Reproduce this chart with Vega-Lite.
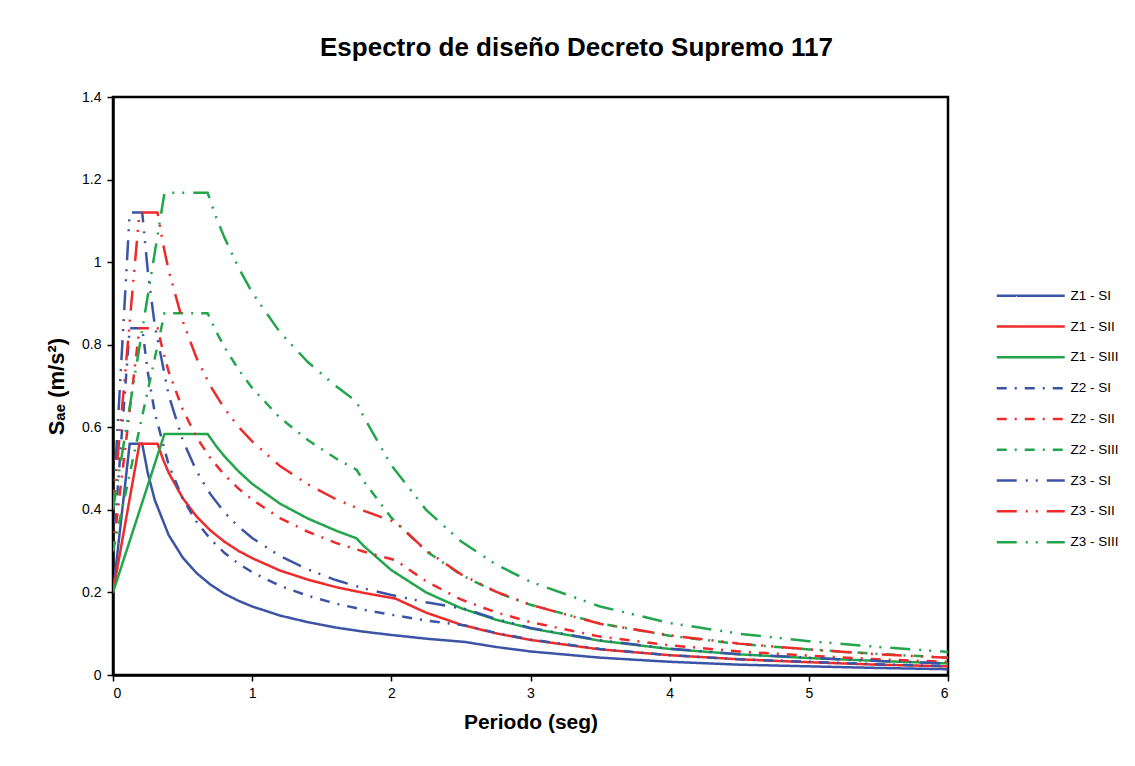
{
  "$schema": "https://vega.github.io/schema/vega-lite/v6.json",
  "width": 835,
  "height": 578,
  "autosize": {"type": "none"},
  "padding": {"left": 113, "top": 97, "right": 187, "bottom": 91},
  "background": "white",
  "title": {"text": "Espectro de diseño Decreto Supremo 117", "font": "Liberation Sans", "fontSize": 26, "fontWeight": "bold", "anchor": "middle", "dx": 46, "offset": 29, "color": "black"},
  "datasets": {
    "spec": [
      {"series": "Z1 - SI", "T": 0, "S": 0.2}, {"series": "Z1 - SI", "T": 0.12, "S": 0.56}, {"series": "Z1 - SI", "T": 0.21, "S": 0.56}, {"series": "Z1 - SI", "T": 0.25, "S": 0.489}, {"series": "Z1 - SI", "T": 0.3, "S": 0.424}, {"series": "Z1 - SI", "T": 0.4, "S": 0.339}, {"series": "Z1 - SI", "T": 0.5, "S": 0.285}, {"series": "Z1 - SI", "T": 0.6, "S": 0.247}, {"series": "Z1 - SI", "T": 0.7, "S": 0.219}, {"series": "Z1 - SI", "T": 0.8, "S": 0.197}, {"series": "Z1 - SI", "T": 0.9, "S": 0.18}, {"series": "Z1 - SI", "T": 1.0, "S": 0.166}, {"series": "Z1 - SI", "T": 1.2, "S": 0.144}, {"series": "Z1 - SI", "T": 1.4, "S": 0.128}, {"series": "Z1 - SI", "T": 1.6, "S": 0.115}, {"series": "Z1 - SI", "T": 1.8, "S": 0.105}, {"series": "Z1 - SI", "T": 2.0, "S": 0.097}, {"series": "Z1 - SI", "T": 2.25, "S": 0.088}, {"series": "Z1 - SI", "T": 2.53, "S": 0.08}, {"series": "Z1 - SI", "T": 2.75, "S": 0.068}, {"series": "Z1 - SI", "T": 3.0, "S": 0.057}, {"series": "Z1 - SI", "T": 3.5, "S": 0.042}, {"series": "Z1 - SI", "T": 4.0, "S": 0.032}, {"series": "Z1 - SI", "T": 4.5, "S": 0.025}, {"series": "Z1 - SI", "T": 5.0, "S": 0.021}, {"series": "Z1 - SI", "T": 5.5, "S": 0.017}, {"series": "Z1 - SI", "T": 6.0, "S": 0.014},

      {"series": "Z1 - SII", "T": 0, "S": 0.2}, {"series": "Z1 - SII", "T": 0.19, "S": 0.56}, {"series": "Z1 - SII", "T": 0.32, "S": 0.56}, {"series": "Z1 - SII", "T": 0.36, "S": 0.522}, {"series": "Z1 - SII", "T": 0.4, "S": 0.49}, {"series": "Z1 - SII", "T": 0.5, "S": 0.429}, {"series": "Z1 - SII", "T": 0.6, "S": 0.384}, {"series": "Z1 - SII", "T": 0.7, "S": 0.35}, {"series": "Z1 - SII", "T": 0.8, "S": 0.323}, {"series": "Z1 - SII", "T": 0.9, "S": 0.301}, {"series": "Z1 - SII", "T": 1.0, "S": 0.283}, {"series": "Z1 - SII", "T": 1.2, "S": 0.253}, {"series": "Z1 - SII", "T": 1.4, "S": 0.231}, {"series": "Z1 - SII", "T": 1.6, "S": 0.213}, {"series": "Z1 - SII", "T": 1.8, "S": 0.199}, {"series": "Z1 - SII", "T": 2.03, "S": 0.185}, {"series": "Z1 - SII", "T": 2.25, "S": 0.151}, {"series": "Z1 - SII", "T": 2.5, "S": 0.122}, {"series": "Z1 - SII", "T": 2.75, "S": 0.101}, {"series": "Z1 - SII", "T": 3.0, "S": 0.085}, {"series": "Z1 - SII", "T": 3.5, "S": 0.062}, {"series": "Z1 - SII", "T": 4.0, "S": 0.048}, {"series": "Z1 - SII", "T": 4.5, "S": 0.038}, {"series": "Z1 - SII", "T": 5.0, "S": 0.031}, {"series": "Z1 - SII", "T": 5.5, "S": 0.025}, {"series": "Z1 - SII", "T": 6.0, "S": 0.021},

      {"series": "Z1 - SIII", "T": 0, "S": 0.2}, {"series": "Z1 - SIII", "T": 0.37, "S": 0.584}, {"series": "Z1 - SIII", "T": 0.68, "S": 0.584}, {"series": "Z1 - SIII", "T": 0.74, "S": 0.555}, {"series": "Z1 - SIII", "T": 0.8, "S": 0.53}, {"series": "Z1 - SIII", "T": 0.9, "S": 0.494}, {"series": "Z1 - SIII", "T": 1.0, "S": 0.463}, {"series": "Z1 - SIII", "T": 1.2, "S": 0.415}, {"series": "Z1 - SIII", "T": 1.4, "S": 0.379}, {"series": "Z1 - SIII", "T": 1.6, "S": 0.35}, {"series": "Z1 - SIII", "T": 1.75, "S": 0.331}, {"series": "Z1 - SIII", "T": 1.8, "S": 0.313}, {"series": "Z1 - SIII", "T": 2.0, "S": 0.254}, {"series": "Z1 - SIII", "T": 2.25, "S": 0.2}, {"series": "Z1 - SIII", "T": 2.5, "S": 0.162}, {"series": "Z1 - SIII", "T": 2.75, "S": 0.134}, {"series": "Z1 - SIII", "T": 3.0, "S": 0.113}, {"series": "Z1 - SIII", "T": 3.5, "S": 0.083}, {"series": "Z1 - SIII", "T": 4.0, "S": 0.063}, {"series": "Z1 - SIII", "T": 4.5, "S": 0.05}, {"series": "Z1 - SIII", "T": 5.0, "S": 0.041}, {"series": "Z1 - SIII", "T": 5.5, "S": 0.034}, {"series": "Z1 - SIII", "T": 6.0, "S": 0.028},

      {"series": "Z2 - SI", "T": 0, "S": 0.3}, {"series": "Z2 - SI", "T": 0.12, "S": 0.84}, {"series": "Z2 - SI", "T": 0.21, "S": 0.84}, {"series": "Z2 - SI", "T": 0.25, "S": 0.734}, {"series": "Z2 - SI", "T": 0.3, "S": 0.636}, {"series": "Z2 - SI", "T": 0.4, "S": 0.509}, {"series": "Z2 - SI", "T": 0.5, "S": 0.428}, {"series": "Z2 - SI", "T": 0.6, "S": 0.371}, {"series": "Z2 - SI", "T": 0.7, "S": 0.329}, {"series": "Z2 - SI", "T": 0.8, "S": 0.296}, {"series": "Z2 - SI", "T": 0.9, "S": 0.27}, {"series": "Z2 - SI", "T": 1.0, "S": 0.249}, {"series": "Z2 - SI", "T": 1.2, "S": 0.216}, {"series": "Z2 - SI", "T": 1.4, "S": 0.192}, {"series": "Z2 - SI", "T": 1.6, "S": 0.173}, {"series": "Z2 - SI", "T": 1.8, "S": 0.158}, {"series": "Z2 - SI", "T": 2.0, "S": 0.146}, {"series": "Z2 - SI", "T": 2.25, "S": 0.132}, {"series": "Z2 - SI", "T": 2.53, "S": 0.12}, {"series": "Z2 - SI", "T": 2.75, "S": 0.102}, {"series": "Z2 - SI", "T": 3.0, "S": 0.086}, {"series": "Z2 - SI", "T": 3.5, "S": 0.063}, {"series": "Z2 - SI", "T": 4.0, "S": 0.048}, {"series": "Z2 - SI", "T": 4.5, "S": 0.038}, {"series": "Z2 - SI", "T": 5.0, "S": 0.032}, {"series": "Z2 - SI", "T": 5.5, "S": 0.026}, {"series": "Z2 - SI", "T": 6.0, "S": 0.021},

      {"series": "Z2 - SII", "T": 0, "S": 0.3}, {"series": "Z2 - SII", "T": 0.19, "S": 0.84}, {"series": "Z2 - SII", "T": 0.32, "S": 0.84}, {"series": "Z2 - SII", "T": 0.36, "S": 0.783}, {"series": "Z2 - SII", "T": 0.4, "S": 0.735}, {"series": "Z2 - SII", "T": 0.5, "S": 0.644}, {"series": "Z2 - SII", "T": 0.6, "S": 0.576}, {"series": "Z2 - SII", "T": 0.7, "S": 0.525}, {"series": "Z2 - SII", "T": 0.8, "S": 0.485}, {"series": "Z2 - SII", "T": 0.9, "S": 0.452}, {"series": "Z2 - SII", "T": 1.0, "S": 0.425}, {"series": "Z2 - SII", "T": 1.2, "S": 0.38}, {"series": "Z2 - SII", "T": 1.4, "S": 0.347}, {"series": "Z2 - SII", "T": 1.6, "S": 0.32}, {"series": "Z2 - SII", "T": 1.8, "S": 0.299}, {"series": "Z2 - SII", "T": 2.03, "S": 0.278}, {"series": "Z2 - SII", "T": 2.25, "S": 0.227}, {"series": "Z2 - SII", "T": 2.5, "S": 0.183}, {"series": "Z2 - SII", "T": 2.75, "S": 0.152}, {"series": "Z2 - SII", "T": 3.0, "S": 0.128}, {"series": "Z2 - SII", "T": 3.5, "S": 0.093}, {"series": "Z2 - SII", "T": 4.0, "S": 0.072}, {"series": "Z2 - SII", "T": 4.5, "S": 0.057}, {"series": "Z2 - SII", "T": 5.0, "S": 0.047}, {"series": "Z2 - SII", "T": 5.5, "S": 0.038}, {"series": "Z2 - SII", "T": 6.0, "S": 0.032},

      {"series": "Z2 - SIII", "T": 0, "S": 0.3}, {"series": "Z2 - SIII", "T": 0.37, "S": 0.876}, {"series": "Z2 - SIII", "T": 0.68, "S": 0.876}, {"series": "Z2 - SIII", "T": 0.74, "S": 0.833}, {"series": "Z2 - SIII", "T": 0.8, "S": 0.795}, {"series": "Z2 - SIII", "T": 0.9, "S": 0.741}, {"series": "Z2 - SIII", "T": 1.0, "S": 0.695}, {"series": "Z2 - SIII", "T": 1.2, "S": 0.623}, {"series": "Z2 - SIII", "T": 1.4, "S": 0.569}, {"series": "Z2 - SIII", "T": 1.6, "S": 0.525}, {"series": "Z2 - SIII", "T": 1.75, "S": 0.497}, {"series": "Z2 - SIII", "T": 1.8, "S": 0.47}, {"series": "Z2 - SIII", "T": 2.0, "S": 0.381}, {"series": "Z2 - SIII", "T": 2.25, "S": 0.3}, {"series": "Z2 - SIII", "T": 2.5, "S": 0.243}, {"series": "Z2 - SIII", "T": 2.75, "S": 0.201}, {"series": "Z2 - SIII", "T": 3.0, "S": 0.17}, {"series": "Z2 - SIII", "T": 3.5, "S": 0.125}, {"series": "Z2 - SIII", "T": 4.0, "S": 0.095}, {"series": "Z2 - SIII", "T": 4.5, "S": 0.075}, {"series": "Z2 - SIII", "T": 5.0, "S": 0.062}, {"series": "Z2 - SIII", "T": 5.5, "S": 0.051}, {"series": "Z2 - SIII", "T": 6.0, "S": 0.042},

      {"series": "Z3 - SI", "T": 0, "S": 0.4}, {"series": "Z3 - SI", "T": 0.12, "S": 1.12}, {"series": "Z3 - SI", "T": 0.21, "S": 1.12}, {"series": "Z3 - SI", "T": 0.25, "S": 0.978}, {"series": "Z3 - SI", "T": 0.3, "S": 0.848}, {"series": "Z3 - SI", "T": 0.4, "S": 0.678}, {"series": "Z3 - SI", "T": 0.5, "S": 0.57}, {"series": "Z3 - SI", "T": 0.6, "S": 0.494}, {"series": "Z3 - SI", "T": 0.7, "S": 0.438}, {"series": "Z3 - SI", "T": 0.8, "S": 0.394}, {"series": "Z3 - SI", "T": 0.9, "S": 0.36}, {"series": "Z3 - SI", "T": 1.0, "S": 0.332}, {"series": "Z3 - SI", "T": 1.2, "S": 0.288}, {"series": "Z3 - SI", "T": 1.4, "S": 0.256}, {"series": "Z3 - SI", "T": 1.6, "S": 0.23}, {"series": "Z3 - SI", "T": 1.8, "S": 0.21}, {"series": "Z3 - SI", "T": 2.0, "S": 0.194}, {"series": "Z3 - SI", "T": 2.25, "S": 0.176}, {"series": "Z3 - SI", "T": 2.53, "S": 0.16}, {"series": "Z3 - SI", "T": 2.75, "S": 0.136}, {"series": "Z3 - SI", "T": 3.0, "S": 0.114}, {"series": "Z3 - SI", "T": 3.5, "S": 0.084}, {"series": "Z3 - SI", "T": 4.0, "S": 0.064}, {"series": "Z3 - SI", "T": 4.5, "S": 0.05}, {"series": "Z3 - SI", "T": 5.0, "S": 0.042}, {"series": "Z3 - SI", "T": 5.5, "S": 0.034}, {"series": "Z3 - SI", "T": 6.0, "S": 0.028},

      {"series": "Z3 - SII", "T": 0, "S": 0.4}, {"series": "Z3 - SII", "T": 0.19, "S": 1.12}, {"series": "Z3 - SII", "T": 0.32, "S": 1.12}, {"series": "Z3 - SII", "T": 0.36, "S": 1.044}, {"series": "Z3 - SII", "T": 0.4, "S": 0.98}, {"series": "Z3 - SII", "T": 0.5, "S": 0.858}, {"series": "Z3 - SII", "T": 0.6, "S": 0.768}, {"series": "Z3 - SII", "T": 0.7, "S": 0.7}, {"series": "Z3 - SII", "T": 0.8, "S": 0.646}, {"series": "Z3 - SII", "T": 0.9, "S": 0.602}, {"series": "Z3 - SII", "T": 1.0, "S": 0.566}, {"series": "Z3 - SII", "T": 1.2, "S": 0.506}, {"series": "Z3 - SII", "T": 1.4, "S": 0.462}, {"series": "Z3 - SII", "T": 1.6, "S": 0.426}, {"series": "Z3 - SII", "T": 1.8, "S": 0.398}, {"series": "Z3 - SII", "T": 2.03, "S": 0.37}, {"series": "Z3 - SII", "T": 2.25, "S": 0.302}, {"series": "Z3 - SII", "T": 2.5, "S": 0.244}, {"series": "Z3 - SII", "T": 2.75, "S": 0.202}, {"series": "Z3 - SII", "T": 3.0, "S": 0.17}, {"series": "Z3 - SII", "T": 3.5, "S": 0.124}, {"series": "Z3 - SII", "T": 4.0, "S": 0.096}, {"series": "Z3 - SII", "T": 4.5, "S": 0.076}, {"series": "Z3 - SII", "T": 5.0, "S": 0.062}, {"series": "Z3 - SII", "T": 5.5, "S": 0.05}, {"series": "Z3 - SII", "T": 6.0, "S": 0.042},

      {"series": "Z3 - SIII", "T": 0, "S": 0.4}, {"series": "Z3 - SIII", "T": 0.37, "S": 1.168}, {"series": "Z3 - SIII", "T": 0.68, "S": 1.168}, {"series": "Z3 - SIII", "T": 0.74, "S": 1.11}, {"series": "Z3 - SIII", "T": 0.8, "S": 1.06}, {"series": "Z3 - SIII", "T": 0.9, "S": 0.988}, {"series": "Z3 - SIII", "T": 1.0, "S": 0.926}, {"series": "Z3 - SIII", "T": 1.2, "S": 0.83}, {"series": "Z3 - SIII", "T": 1.4, "S": 0.758}, {"series": "Z3 - SIII", "T": 1.6, "S": 0.7}, {"series": "Z3 - SIII", "T": 1.75, "S": 0.662}, {"series": "Z3 - SIII", "T": 1.8, "S": 0.626}, {"series": "Z3 - SIII", "T": 2.0, "S": 0.508}, {"series": "Z3 - SIII", "T": 2.25, "S": 0.4}, {"series": "Z3 - SIII", "T": 2.5, "S": 0.324}, {"series": "Z3 - SIII", "T": 2.75, "S": 0.268}, {"series": "Z3 - SIII", "T": 3.0, "S": 0.226}, {"series": "Z3 - SIII", "T": 3.5, "S": 0.166}, {"series": "Z3 - SIII", "T": 4.0, "S": 0.126}, {"series": "Z3 - SIII", "T": 4.5, "S": 0.1}, {"series": "Z3 - SIII", "T": 5.0, "S": 0.082}, {"series": "Z3 - SIII", "T": 5.5, "S": 0.068}, {"series": "Z3 - SIII", "T": 6.0, "S": 0.056}
    ]
  },
  "data": {"name": "spec"},
  "mark": {"type": "line", "strokeWidth": 2.5, "clip": true},
  "encoding": {
    "x": {"field": "T", "type": "quantitative", "scale": {"domain": [0, 6], "nice": false, "zero": false},
      "axis": {"title": "Periodo (seg)", "values": [0, 1, 2, 3, 4, 5, 6], "format": "d", "labelPadding": 5, "titlePadding": 11, "titleFontSize": 21}},
    "y": {"field": "S", "type": "quantitative", "scale": {"domain": [0, 1.4], "nice": false},
      "axis": {"title": "Sₐₑ (m/s²)", "values": [0, 0.2, 0.4, 0.6, 0.8, 1, 1.2, 1.4], "format": "~g", "labelPadding": 6, "titlePadding": 13, "titleFontSize": 22}},
    "color": {"field": "series", "type": "nominal",
      "scale": {"domain": ["Z1 - SI", "Z1 - SII", "Z1 - SIII", "Z2 - SI", "Z2 - SII", "Z2 - SIII", "Z3 - SI", "Z3 - SII", "Z3 - SIII"],
        "range": ["#3B54A5", "#EE2A2A", "#22A54B", "#3B54A5", "#EE2A2A", "#22A54B", "#3B54A5", "#EE2A2A", "#22A54B"]},
      "legend": {"orient": "none", "legendX": 911, "legendY": 192, "title": null}},
    "strokeDash": {"field": "series", "type": "nominal",
      "scale": {"domain": ["Z1 - SI", "Z1 - SII", "Z1 - SIII", "Z2 - SI", "Z2 - SII", "Z2 - SIII", "Z3 - SI", "Z3 - SII", "Z3 - SIII"],
        "range": [[1, 0], [1, 0], [1, 0], [10, 8, 2, 8], [10, 8, 2, 8], [10, 8, 2, 8], [20, 9, 2, 8, 2, 9], [20, 9, 2, 8, 2, 9], [20, 9, 2, 8, 2, 9]]},
      "legend": {"orient": "none", "legendX": 911, "legendY": 192, "title": null}}
  },
  "config": {
    "font": "Liberation Sans",
    "view": {"stroke": "black", "strokeWidth": 2.5},
    "axis": {"labelFont": "Liberation Sans", "titleFont": "Liberation Sans", "labelFontSize": 14, "titleFontSize": 20, "titleFontWeight": "bold", "labelColor": "black", "titleColor": "black", "domainColor": "black", "domainWidth": 2.5, "tickColor": "black", "tickWidth": 1.5, "tickSize": 6, "grid": false},
    "legend": {"padding": 0, "symbolType": "M-6.8,0H6.8", "symbolSize": 100, "symbolStrokeWidth": 2.5, "labelFont": "Liberation Sans", "labelFontSize": 13.5, "labelColor": "black", "labelOffset": 33, "rowPadding": 15.8}
  }
}
